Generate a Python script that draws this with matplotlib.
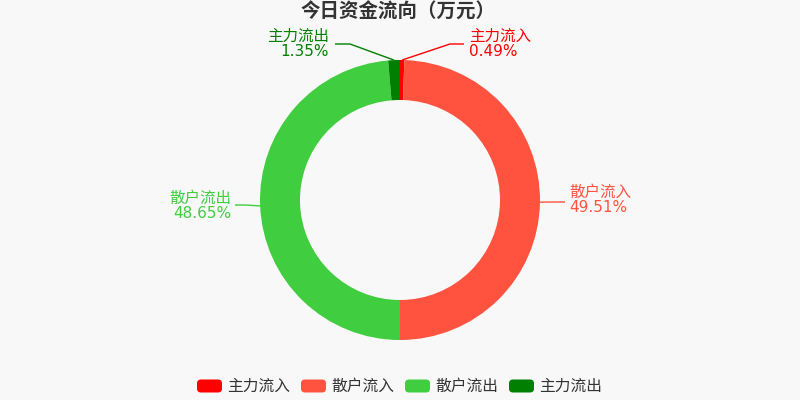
import matplotlib
matplotlib.use("Agg")
import matplotlib.pyplot as plt
from matplotlib.patches import FancyBboxPatch
import numpy as np

title = "今日资金流向（万元）"
categories = ["主力流入", "散户流入", "散户流出", "主力流出"]
percents = [0.49, 49.51, 48.65, 1.35]
colors = ["#ff0000", "#ff5340", "#40cd40", "#007f00"]

# label layout (pixel coords): elbow point, line end, text anchor, alignment
label_layout = [
    dict(elbow=(450, 44), end=(464, 44), text=(469, 44), ha="left"),
    dict(elbow=(555, 202), end=(565, 202), text=(569, 200), ha="left"),
    dict(elbow=(245, 205), end=(235, 205), text=(231, 206), ha="right"),
    dict(elbow=(350, 44), end=(335, 44), text=(329, 44), ha="right"),
]

W, H = 800, 400
CX, CY, R, RW = 400, 200, 140, 40
BG = "#f8f8f8"
FAM = ["DejaVu Sans", "Noto Sans CJK SC"]
CJK = ["Noto Sans CJK SC", "DejaVu Sans"]

fig = plt.figure(figsize=(8, 4), dpi=100, facecolor=BG)
ax = fig.add_axes([0, 0, 1, 1])
ax.set_xlim(0, W)
ax.set_ylim(0, H)
ax.set_facecolor(BG)
ax.axis("off")

def py(y):
    return H - y

wedges, _ = ax.pie(percents, colors=colors, startangle=90, counterclock=False,
                   center=(CX, py(CY)), radius=R,
                   wedgeprops=dict(width=RW, linewidth=0))
ax.set_xlim(0, W)
ax.set_ylim(0, H)
ax.set_aspect("auto")

cum = np.cumsum([0] + percents)
for i, (cat, p, c, lay) in enumerate(zip(categories, percents, colors, label_layout)):
    mid = (cum[i] + cum[i + 1]) / 2 / 100 * 2 * np.pi
    sx = CX + R * np.sin(mid)
    sy = CY - R * np.cos(mid)
    ex, ey = lay["elbow"]
    tx, ty = lay["end"]
    ax.plot([sx, ex, tx], [py(sy), py(ey), py(ty)], color=c, lw=1, solid_capstyle="butt")
    x0, y0 = lay["text"]
    ax.text(x0, py(y0 - 8), cat, color=c, fontsize=11.2, family=CJK,
            ha=lay["ha"], va="center")
    ax.text(x0, py(y0 + 8), f"{p:.2f}%", color=c, fontsize=11, family=FAM,
            ha=lay["ha"], va="center")

ax.text(398, py(12), title, fontsize=14, fontweight="bold", color="#333333",
        family=CJK, ha="center", va="center")

# legend
lx0, ly, step = 197, 386, 104
for i, (cat, c) in enumerate(zip(categories, colors)):
    x = lx0 + i * step
    box = FancyBboxPatch((x, py(ly) - 6.5), 25, 13,
                         boxstyle="round,pad=0,rounding_size=4",
                         facecolor=c, edgecolor="none")
    ax.add_patch(box)
    ax.text(x + 30, py(ly), cat, fontsize=11.3, color="#333333",
            family=CJK, ha="left", va="center")

fig.savefig("out.png", dpi=100, facecolor=BG)
